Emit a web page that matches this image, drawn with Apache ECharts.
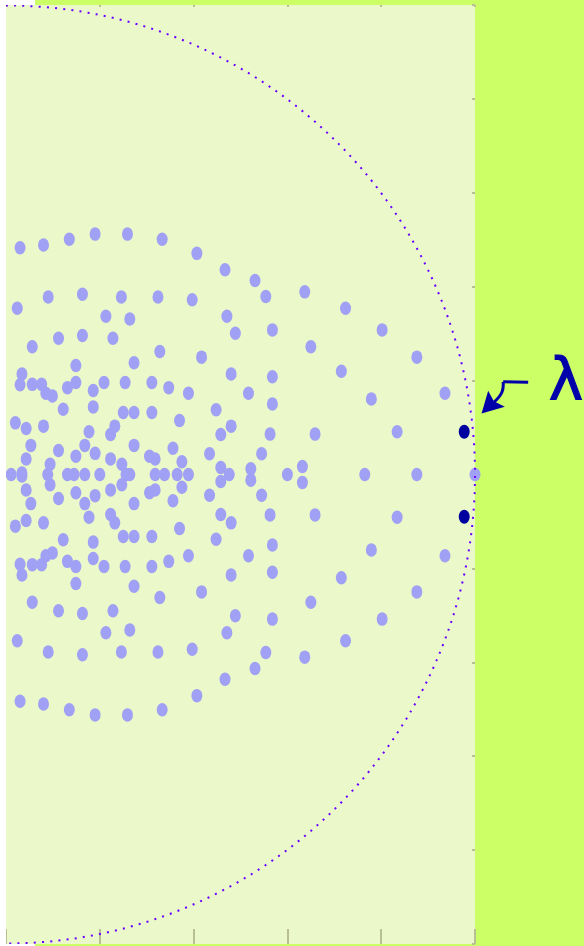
<!DOCTYPE html>
<html>
<head>
<meta charset="utf-8">
<script src="https://cdn.jsdelivr.net/npm/echarts@6/dist/echarts.min.js"></script>
<style>
html,body{margin:0;padding:0;background:#ffffff;}
#chart{width:584px;height:946px;}
</style>
</head>
<body>
<div id="chart"></div>
<script>
// ---- data ----
const xTicks = [0, 0.2, 0.4, 0.6, 0.8, 1.0];
const yTicks = [-1, -0.8, -0.6, -0.4, -0.2, 0, 0.2, 0.4, 0.6, 0.8, 1.0];

// points above the real axis
const pointsUpper = [
  [0.030,0.483],[0.080,0.489],[0.135,0.501],[0.190,0.512],[0.259,0.512],[0.333,0.501],[0.407,0.471],[0.467,0.436],[0.531,0.413],[0.554,0.379],[0.637,0.389],[0.724,0.354],
  [0.024,0.354],[0.090,0.378],[0.163,0.384],[0.246,0.378],[0.324,0.378],[0.397,0.372],[0.471,0.337],[0.489,0.301],[0.213,0.337],[0.264,0.331],[0.568,0.308],[0.802,0.308],
  [0.056,0.272],[0.112,0.290],[0.163,0.296],[0.228,0.290],[0.328,0.262],[0.417,0.250],[0.650,0.272],[0.876,0.250],
  [0.149,0.232],[0.273,0.238],[0.480,0.214],[0.034,0.214],[0.030,0.191],[0.056,0.192],[0.076,0.192],[0.085,0.173],[0.099,0.167],[0.149,0.196],[0.131,0.185],[0.209,0.196],[0.254,0.196],[0.311,0.196],[0.347,0.185],[0.389,0.173],[0.186,0.179],[0.568,0.208],[0.715,0.220],[0.517,0.173],[0.936,0.173],[0.779,0.161],[0.568,0.150],
  [0.122,0.139],[0.186,0.144],[0.250,0.132],[0.273,0.132],[0.311,0.132],[0.370,0.115],[0.448,0.138],[0.480,0.103],[0.458,0.085],[0.563,0.086],[0.659,0.086],[0.834,0.091],
  [0.020,0.110],[0.043,0.098],[0.080,0.103],[0.232,0.103],[0.223,0.085],[0.177,0.091],
  [0.053,0.062],[0.168,0.062],[0.112,0.051],[0.273,0.062],[0.356,0.056],[0.434,0.044],[0.545,0.044],
  [0.043,0.033],[0.149,0.039],[0.190,0.045],[0.223,0.033],[0.306,0.039],[0.318,0.033],
  [0.094,0.022],[0.247,0.022],[0.375,0.027],[0.458,0.015],[0.522,0.012],[0.632,0.017],[0.034,0.003]
];
// points below the real axis
const pointsLower = [
  [0.030,-0.483],[0.080,-0.489],[0.135,-0.501],[0.190,-0.512],[0.259,-0.512],[0.333,-0.501],[0.407,-0.471],[0.467,-0.436],[0.531,-0.413],[0.554,-0.379],[0.637,-0.389],[0.724,-0.354],
  [0.024,-0.354],[0.090,-0.378],[0.163,-0.384],[0.246,-0.378],[0.324,-0.378],[0.397,-0.372],[0.471,-0.337],[0.489,-0.301],[0.213,-0.337],[0.264,-0.331],[0.568,-0.308],[0.802,-0.308],
  [0.056,-0.272],[0.112,-0.290],[0.163,-0.296],[0.228,-0.290],[0.328,-0.262],[0.417,-0.250],[0.650,-0.272],[0.876,-0.250],
  [0.149,-0.232],[0.273,-0.238],[0.480,-0.214],[0.034,-0.214],[0.030,-0.191],[0.056,-0.192],[0.076,-0.192],[0.085,-0.173],[0.099,-0.167],[0.149,-0.196],[0.131,-0.185],[0.209,-0.196],[0.254,-0.196],[0.311,-0.196],[0.347,-0.185],[0.389,-0.173],[0.186,-0.179],[0.568,-0.208],[0.715,-0.220],[0.517,-0.173],[0.936,-0.173],[0.779,-0.161],[0.568,-0.150],
  [0.122,-0.139],[0.186,-0.144],[0.250,-0.132],[0.273,-0.132],[0.311,-0.132],[0.370,-0.115],[0.448,-0.138],[0.480,-0.103],[0.458,-0.085],[0.563,-0.086],[0.659,-0.086],[0.834,-0.091],
  [0.020,-0.110],[0.043,-0.098],[0.080,-0.103],[0.232,-0.103],[0.223,-0.085],[0.177,-0.091],
  [0.053,-0.062],[0.168,-0.062],[0.112,-0.051],[0.273,-0.062],[0.356,-0.056],[0.434,-0.044],[0.545,-0.044],
  [0.043,-0.033],[0.149,-0.039],[0.190,-0.045],[0.223,-0.033],[0.306,-0.039],[0.318,-0.033],
  [0.094,-0.022],[0.247,-0.022],[0.375,-0.027],[0.458,-0.015],[0.522,-0.012],[0.632,-0.017],[0.034,-0.003]
];
// points on the real axis
const pointsReal = [
  [0.011,0],[0.089,0],[0.131,0],[0.145,0],[0.168,0],[0.200,0],[0.256,0],[0.264,0],[0.318,0],
  [0.338,0],[0.365,0],[0.389,0],[0.476,0],[0.600,0],[0.765,0],[0.876,0],[1.000,0]
];
// highlighted pair
const highlighted = [[0.977,0.091],[0.977,-0.090]];

const circleRadius = 1.0;
const annotationText = 'λ';
const annotationTip = [1.014, 0.130];   // arrow tip, data coords
const annotationLabel = [1.194, 0.190]; // label centre, data coords

// ---- chart ----
const chart = echarts.init(document.getElementById('chart'), null, {renderer: 'canvas'});
const tickColor = '#b8bf94';

chart.setOption({
  animation: false,
  backgroundColor: '#ccff66',
  grid: {left: 6, right: 109, top: 5, bottom: 2, show: true, backgroundColor: '#ebf8c9', borderWidth: 0},
  xAxis: [
    {type: 'value', min: xTicks[0], max: xTicks[xTicks.length-1], interval: 0.2, position: 'bottom',
     axisLine: {show: false, onZero: false}, axisLabel: {show: false}, splitLine: {show: false},
     axisTick: {show: true, inside: true, length: 15, lineStyle: {color: tickColor, width: 2}}},
    {type: 'value', min: xTicks[0], max: xTicks[xTicks.length-1], interval: 0.2, position: 'top',
     axisLine: {show: false, onZero: false}, axisLabel: {show: false}, splitLine: {show: false},
     axisTick: {show: true, inside: true, length: 2, lineStyle: {color: tickColor, width: 2}}}
  ],
  yAxis: [
    {type: 'value', min: yTicks[0], max: yTicks[yTicks.length-1], interval: 0.2, position: 'right',
     axisLine: {show: false, onZero: false}, axisLabel: {show: false}, splitLine: {show: false},
     axisTick: {show: true, inside: true, length: 3, lineStyle: {color: tickColor, width: 2}}}
  ],
  series: [
    {type: 'scatter', name: 'roots', data: pointsUpper.concat(pointsLower, pointsReal),
     symbol: 'circle', symbolSize: [11, 13.5], itemStyle: {color: '#a0a0f4', opacity: 1}, z: 3},
    {type: 'scatter', name: 'highlighted', data: highlighted,
     symbol: 'circle', symbolSize: [11, 14], itemStyle: {color: '#00009e', opacity: 1}, z: 4}
  ]
});

function px(p) { return chart.convertToPixel({xAxisIndex: 0, yAxisIndex: 0}, p); }
const c0 = px([0, 0]);
const cR = px([circleRadius, 0]);
const r = cR[0] - c0[0];
const tip = px(annotationTip);
const lab = px(annotationLabel);
const tx = tip[0], ty = tip[1];
const arrowColor = '#0000aa';

chart.setOption({
  graphic: [
    {type: 'rect', shape: {x: 0, y: 0, width: 6, height: 946}, style: {fill: '#ffffff'}, z: 100, silent: true},
    {type: 'rect', shape: {x: 0, y: 0, width: 35, height: 5}, style: {fill: '#ffffff'}, z: 100, silent: true},
    {type: 'rect', shape: {x: 0, y: 944, width: 35, height: 2}, style: {fill: '#ffffff'}, z: 100, silent: true},
    {type: 'arc', shape: {cx: c0[0], cy: c0[1], r: r, startAngle: -Math.PI/2, endAngle: Math.PI/2, clockwise: true},
     style: {stroke: '#6a00ff', lineWidth: 2, lineDash: [2, 6.2], fill: null}, z: 50, silent: true},
    {type: 'polyline', shape: {points: [[tx+46.6, ty-31.3], [tx+21.6, ty-31.6]]},
     style: {stroke: arrowColor, lineWidth: 3, fill: null}, z: 60, silent: true},
    {type: 'bezierCurve', shape: {x1: tx+21.6, y1: ty-31.6, cpx1: tx+22.5, cpy1: ty-22, cpx2: tx+19, cpy2: ty-17, x2: tx+11, y2: ty-10},
     style: {stroke: arrowColor, lineWidth: 3, fill: null}, z: 60, silent: true},
    {type: 'polygon', shape: {points: [[tx, ty], [tx+6.6, ty-22.6], [tx+12.3, ty-12.3], [tx+23.3, ty-6.6]]},
     style: {fill: arrowColor}, z: 60, silent: true},
    {type: 'text', x: lab[0], y: lab[1],
     style: {text: annotationText, font: '58px "DejaVu Sans"', fill: arrowColor, stroke: arrowColor, lineWidth: 1.2,
             textAlign: 'center', textVerticalAlign: 'middle', align: 'center', verticalAlign: 'middle'},
     z: 60, silent: true}
  ]
});
</script>
</body>
</html>
